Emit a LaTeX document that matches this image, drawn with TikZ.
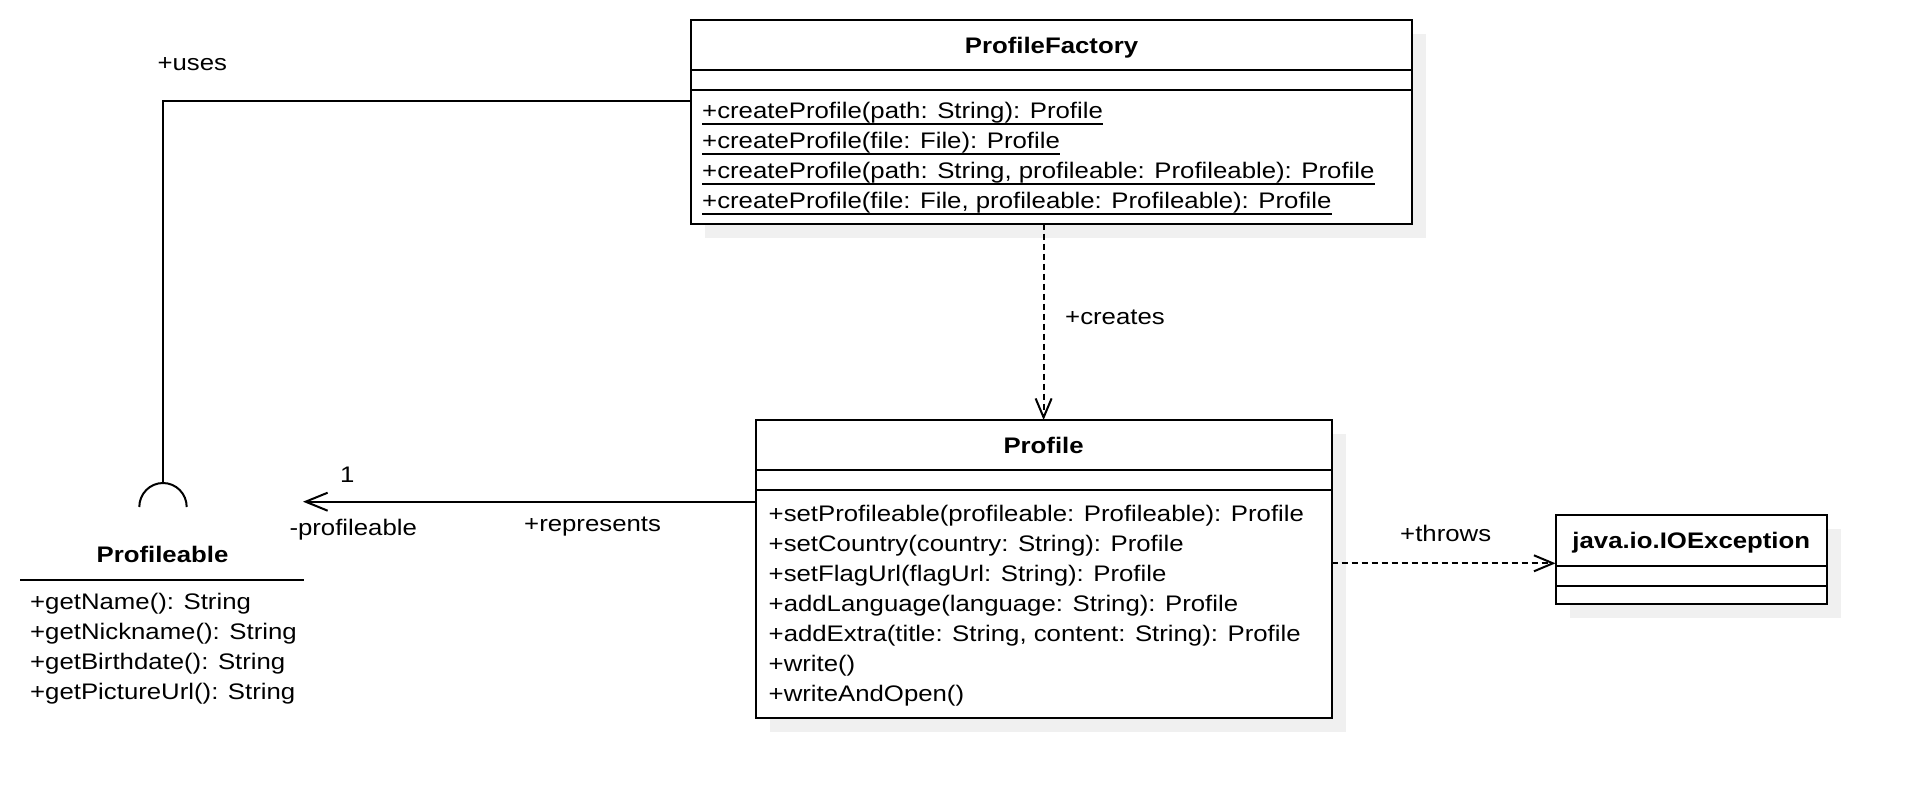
\documentclass[tikz,border=0pt]{standalone}
\usepackage{fontspec}
\setmainfont{Liberation Sans}[FakeStretch=1.145,Ligatures=NoCommon]
\usetikzlibrary{arrows.meta,shadows}
\definecolor{shad}{HTML}{F0F0F0}
\begin{document}
\begin{tikzpicture}[x=1pt,y=-1pt,
  every node/.style={font=\fontsize{22.5pt}{30pt}\selectfont},
  cbox/.style={draw, line width=2pt, fill=white, rectangle, inner sep=0pt, outer sep=0pt,
    drop shadow={shadow xshift=14pt, shadow yshift=-14pt, fill=shad, draw=none, opacity=1}},
  ctitle/.style={font=\fontsize{22.5pt}{30pt}\selectfont\bfseries, inner sep=0pt, anchor=base},
  member/.style={inner sep=0pt, anchor=base west},
  lbl/.style={inner sep=0pt, anchor=base west},
  sep/.style={line width=2pt},
  ul/.style={line width=1.7pt},
  conn/.style={line width=2pt},
  dep/.style={line width=2pt, dash pattern=on 6pt off 4pt, -{Straight Barb[length=19pt,width=16pt,line width=2pt]}},
  assoc/.style={line width=2pt, -{Straight Barb[length=22pt,width=18pt,line width=2pt]}},
]
\useasboundingbox (0,0) rectangle (1908,798);

% ---- ProfileFactory
\node[cbox, minimum width=721pt, minimum height=203.5pt] (pf) at (1051.5,121.75) {};
\node[ctitle] (pft) at ([yshift=-33pt]pf.north) {ProfileFactory};
\draw[sep] (pf.west |- 0,70) -- (pf.east |- 0,70);
\draw[sep] (pf.west |- 0,90) -- (pf.east |- 0,90);
\node[member] (pf1) at (702,118) {+createProfile(path: String): Profile};
\node[member] (pf2) at (702,148) {+createProfile(file: File): Profile};
\node[member] (pf3) at (702,178) {+createProfile(path: String, profileable: Profileable): Profile};
\node[member] (pf4) at (702,208) {+createProfile(file: File, profileable: Profileable): Profile};
\foreach \m in {pf1,pf2,pf3,pf4}
  \draw[ul] ([yshift=-6pt]\m.base west) -- ([yshift=-6pt]\m.base east);

% ---- Profile
\node[cbox, minimum width=575.8pt, minimum height=297.5pt] (pr) at (1043.6,568.75) {};
\node[ctitle] (prt) at ([yshift=-33pt]pr.north) {Profile};
\draw[sep] (pr.west |- 0,469.5) -- (pr.east |- 0,469.5);
\draw[sep] (pr.west |- 0,490) -- (pr.east |- 0,490);
\node[member] (pr1) at (768.5,521) {+setProfileable(profileable: Profileable): Profile};
\node[member] (pr2) at (768.5,551) {+setCountry(country: String): Profile};
\node[member] (pr3) at (768.5,581) {+setFlagUrl(flagUrl: String): Profile};
\node[member] (pr4) at (768.5,611) {+addLanguage(language: String): Profile};
\node[member] (pr5) at (768.5,641) {+addExtra(title: String, content: String): Profile};
\node[member] (pr6) at (768.5,671) {+write()};
\node[member] (pr7) at (768.5,701) {+writeAndOpen()};

% ---- java.io.IOException
\node[cbox, minimum width=271.5pt, minimum height=88.5pt] (io) at (1691.25,559.25) {};
\node[ctitle] (iot) at ([yshift=-33.3pt]io.north) {java.io.IOException};
\draw[sep] (io.west |- 0,566) -- (io.east |- 0,566);
\draw[sep] (io.west |- 0,586) -- (io.east |- 0,586);

% ---- Profileable (interface)
\node[ctitle] (plb) at (162.5,562.3) {Profileable};
\draw[sep] (20,579.5) -- (304.3,579.5);
\node[member] (pl1) at (30,609) {+getName(): String};
\node[member] (pl2) at (30,639) {+getNickname(): String};
\node[member] (pl3) at (30,669) {+getBirthdate(): String};
\node[member] (pl4) at (30,699) {+getPictureUrl(): String};
\draw[conn] (139.3,507) arc[start angle=180, end angle=0, x radius=23.7pt, y radius=24pt];
\coordinate (sock) at (163,483);
\coordinate (plbend) at (303,501.7);

% ---- connectors
\draw[conn] (sock) |- (pf.west |- 0,100.5);
\draw[dep] (pr.north |- pf.south) -- (pr.north);
\draw[dep] (pr.east |- 0,563.3) -- (io.west |- 0,563.3);
\draw[assoc] (pr.west |- 0,501.7) -- (plbend);

% ---- labels
\node[lbl] (luses) at (157.3,70.7) {+uses};
\node[lbl] (lcreates) at (1065,324) {+creates};
\node[lbl] (lthrows) at (1400,541) {+throws};
\node[lbl] (lone) at (340,482.7) {1};
\node[lbl] (lrole) at (289.3,535.5) {-profileable};
\node[lbl] (lrep) at (524,531.7) {+represents};
\end{tikzpicture}
\end{document}
